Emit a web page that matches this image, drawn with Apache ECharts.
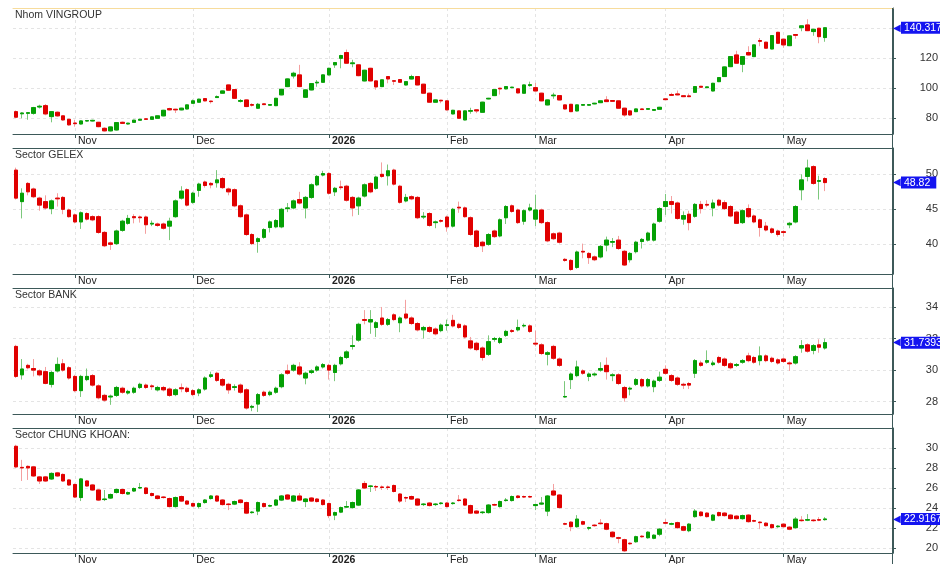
<!DOCTYPE html>
<html>
<head>
<meta charset="utf-8">
<script src="https://cdn.jsdelivr.net/npm/echarts@6.0.0/dist/echarts.min.js"></script>
<style>
html, body { margin: 0; padding: 0; background: #fff; }
#main { width: 940px; height: 564px; }
</style>
</head>
<body>
<div id="main"></div>
<script>
'use strict';

// trading days, month by month (holidays left out)
var oct25 = [20, 21, 22, 23, 24, 27, 28, 29, 30, 31];
var nov25 = [3, 4, 5, 6, 7, 10, 11, 12, 13, 14, 17, 18, 19, 20, 21, 24, 25, 26, 27, 28];
var dec25 = [1, 2, 3, 4, 5, 8, 9, 10, 11, 12, 15, 16, 17, 18, 19, 22, 23, 24, 25, 26, 29, 30, 31];
var jan26 = [5, 6, 7, 8, 9, 12, 13, 14, 15, 16, 19, 20, 21, 22, 23, 26, 27, 28, 29, 30];
var feb26 = [2, 3, 4, 5, 6, 9, 10, 11, 12, 13, 23, 24, 25, 26, 27];
var mar26 = [2, 3, 4, 5, 6, 9, 10, 11, 12, 13, 16, 17, 18, 19, 20, 23, 24, 25, 26, 27, 30, 31];
var apr26 = [1, 2, 3, 6, 7, 8, 9, 10, 13, 14, 15, 16, 17, 20, 21, 22, 23, 24, 28, 29];
var may26 = [4, 5, 6, 7, 8, 11, 12, 13];
// empty slots on the right of the chart
var mayAhead = [14, 15, 18, 19, 20, 21, 22, 25, 26, 27, 28];

var monthNames = ['Jan', 'Feb', 'Mar', 'Apr', 'May', 'Jun', 'Jul', 'Aug', 'Sep', 'Oct', 'Nov', 'Dec'];
var panelTitles = ['Nhom VINGROUP', 'Sector GELEX', 'Sector BANK', 'Sector CHUNG KHOAN:'];

// [open, close, low, high]
var vinData = [
    [84.4, 80.7, 80.2, 85.2], [83.0, 83.5, 80.0, 84.0], [83.3, 83.7, 79.0, 84.0], [83.3, 87.1, 82.4, 87.6], [87.5, 88.0, 86.5, 89.0],
    [88.4, 82.9, 82.0, 89.5], [81.1, 84.4, 77.3, 84.8], [84.0, 81.6, 81.0, 84.5], [81.6, 78.9, 78.3, 82.0], [79.3, 75.6, 75.0, 79.6],
    [76.8, 76.4, 74.4, 79.0], [76.2, 78.2, 75.8, 78.6], [78.2, 78.4, 77.8, 78.8], [78.2, 78.6, 77.8, 79.0], [77.3, 74.4, 74.0, 77.6],
    [73.3, 71.6, 71.2, 74.0], [71.6, 74.2, 71.2, 74.5], [72.2, 77.1, 71.8, 77.5], [77.3, 76.6, 76.2, 77.8], [76.2, 76.7, 75.8, 77.0],
    [77.3, 78.7, 77.0, 79.0], [78.7, 79.3, 78.4, 79.6], [79.6, 79.3, 79.0, 79.9], [79.3, 80.9, 79.0, 81.2], [80.0, 81.6, 79.7, 81.9],
    [81.6, 85.3, 81.3, 85.6], [86.4, 85.6, 85.2, 87.0], [86.0, 85.6, 83.5, 86.3], [85.6, 86.7, 85.3, 87.0], [86.2, 88.9, 85.9, 89.2],
    [90.0, 91.6, 89.7, 92.5], [90.7, 92.7, 90.4, 93.0], [93.1, 91.6, 91.3, 93.4], [91.4, 91.1, 89.8, 91.7], [93.8, 94.4, 93.5, 95.2],
    [96.7, 98.2, 96.4, 98.5], [102.2, 98.7, 98.4, 102.5], [99.1, 93.3, 92.9, 99.4], [91.3, 91.8, 90.5, 92.8], [92.2, 87.8, 87.4, 92.5],
    [89.1, 88.7, 87.8, 90.0], [86.7, 89.3, 86.3, 90.2], [89.6, 89.1, 88.8, 89.9], [88.7, 89.1, 88.4, 89.4], [88.4, 93.3, 88.1, 93.6],
    [95.6, 99.3, 95.3, 99.6], [101.1, 106.2, 100.8, 106.6], [108.2, 110.0, 106.5, 111.0], [108.9, 101.1, 100.7, 115.6], [94.0, 98.9, 93.6, 99.2],
    [98.9, 103.1, 98.6, 103.4], [103.6, 104.0, 101.0, 105.5], [104.0, 108.9, 103.7, 109.2], [108.9, 113.3, 108.6, 113.6], [115.6, 117.1, 113.6, 117.4],
    [120.0, 121.8, 113.3, 122.3], [123.8, 116.7, 116.3, 125.8], [116.4, 116.9, 114.0, 119.0], [115.6, 108.4, 108.0, 115.9], [104.9, 112.0, 104.6, 112.3],
    [113.3, 104.9, 104.6, 113.6], [104.9, 100.9, 99.0, 105.2], [101.1, 105.6, 100.8, 105.9], [107.8, 106.2, 103.3, 108.1], [105.0, 104.7, 102.2, 105.3],
    [105.8, 104.0, 103.7, 106.1], [102.2, 104.4, 101.9, 104.7], [106.2, 107.8, 105.9, 109.0], [107.8, 102.2, 101.9, 108.1], [102.7, 96.7, 96.4, 103.0],
    [96.7, 90.7, 90.4, 97.0], [90.7, 92.2, 90.4, 92.5], [92.0, 91.6, 90.0, 92.3], [91.6, 85.6, 85.3, 91.9], [82.9, 85.3, 82.6, 85.6],
    [84.9, 80.0, 79.7, 85.2], [78.9, 84.9, 78.6, 85.2], [84.7, 85.1, 83.0, 87.0], [85.6, 84.9, 83.4, 85.9], [84.0, 90.7, 83.7, 91.0],
    [92.9, 93.3, 92.6, 93.6], [95.1, 99.1, 94.8, 99.4], [100.0, 99.6, 95.8, 100.3], [99.6, 101.1, 99.3, 101.4], [100.4, 100.7, 100.1, 101.0],
    [99.6, 96.9, 96.6, 99.9], [96.7, 102.2, 96.4, 102.5], [101.8, 102.4, 101.0, 104.4], [100.4, 98.2, 97.9, 103.6], [96.7, 91.6, 91.3, 97.0],
    [88.9, 92.2, 88.6, 92.5], [95.0, 95.4, 93.0, 97.0], [95.1, 92.2, 91.9, 95.4], [88.9, 86.2, 85.9, 89.2], [89.3, 84.4, 84.1, 89.6],
    [84.9, 88.9, 84.6, 89.2], [88.7, 89.1, 88.4, 89.4], [88.7, 89.1, 88.4, 89.4], [89.6, 90.0, 89.3, 90.3], [90.4, 91.6, 90.1, 91.9],
    [92.2, 91.1, 90.8, 94.7], [91.8, 91.3, 91.0, 92.1], [91.6, 86.7, 86.4, 91.9], [86.7, 82.2, 81.0, 87.0], [84.9, 82.2, 81.5, 85.2],
    [84.4, 86.2, 84.1, 86.5], [86.2, 85.8, 85.5, 86.5], [86.0, 86.4, 85.7, 86.7], [85.3, 85.8, 85.0, 86.1], [86.0, 87.3, 85.7, 87.6],
    [92.9, 92.4, 92.1, 93.2], [95.8, 95.3, 95.0, 97.0], [96.2, 95.6, 95.3, 98.5], [95.0, 94.4, 94.1, 95.3], [94.9, 94.4, 94.1, 96.5],
    [97.3, 101.1, 97.0, 101.4], [101.3, 100.7, 100.4, 101.6], [100.4, 100.9, 100.1, 101.2], [98.2, 103.3, 97.9, 103.6], [104.4, 107.1, 104.1, 107.4],
    [107.8, 114.2, 107.5, 114.5], [114.4, 121.1, 114.1, 121.4], [122.2, 116.7, 116.4, 125.0], [116.0, 121.1, 110.7, 121.4], [123.8, 122.2, 121.9, 128.0],
    [121.1, 128.9, 120.8, 129.2], [131.8, 131.3, 128.0, 133.5], [130.7, 126.7, 126.4, 131.0], [126.2, 135.1, 125.9, 135.4], [137.3, 130.0, 129.7, 137.6],
    [132.7, 128.9, 127.0, 133.0], [128.4, 134.9, 128.1, 135.2], [135.8, 135.3, 133.0, 136.1], [140.4, 141.6, 138.0, 141.9], [142.2, 138.4, 138.1, 146.0],
    [137.8, 139.3, 135.0, 139.6], [140.0, 134.4, 130.0, 140.3], [133.8, 140.317, 131.0, 140.6]
];

var gelexData = [
    [50.6, 46.6, 46.4, 50.95], [46.1, 47.3, 43.7, 48.0], [48.7, 47.5, 47.0, 48.9], [47.9, 46.8, 46.6, 48.1], [46.6, 45.6, 44.8, 46.8],
    [46.1, 45.2, 45.0, 47.0], [45.1, 46.2, 44.3, 46.4], [46.6, 46.5, 45.4, 47.3], [46.7, 45.0, 44.3, 46.9], [44.9, 43.95, 43.8, 45.1],
    [44.2, 43.2, 43.0, 44.4], [43.2, 44.5, 42.2, 44.7], [44.4, 43.6, 43.4, 44.6], [43.95, 43.5, 43.3, 44.15], [43.95, 41.7, 41.5, 44.15],
    [41.7, 39.8, 39.6, 41.9], [40.2, 40.0, 39.2, 40.4], [40.1, 41.9, 39.9, 42.1], [42.0, 43.3, 41.8, 43.5], [43.0, 43.7, 42.8, 44.2],
    [43.95, 43.8, 43.0, 44.3], [43.9, 43.8, 43.1, 44.1], [43.9, 42.8, 41.5, 44.1], [42.9, 43.0, 42.6, 43.4], [42.9, 42.7, 42.5, 43.1],
    [42.9, 42.3, 42.1, 43.1], [42.6, 43.3, 40.6, 43.8], [43.95, 46.2, 43.8, 46.4], [46.6, 47.6, 46.4, 48.3], [47.8, 45.6, 45.4, 48.0],
    [46.0, 47.3, 45.8, 47.5], [47.7, 48.6, 46.8, 48.8], [48.9, 48.4, 48.1, 49.1], [48.7, 48.5, 48.0, 48.9], [48.8, 49.2, 48.1, 50.6],
    [49.4, 48.1, 47.9, 49.6], [47.9, 47.5, 47.0, 48.1], [47.8, 45.5, 45.3, 48.0], [45.5, 43.95, 43.8, 45.7], [44.2, 41.4, 41.2, 44.4],
    [41.4, 40.1, 39.9, 41.6], [40.4, 40.8, 38.8, 41.0], [41.0, 42.1, 40.8, 42.3], [42.4, 43.2, 41.7, 43.4], [42.5, 43.4, 42.3, 43.6],
    [42.5, 45.0, 42.3, 45.2], [45.1, 45.2, 44.6, 45.9], [45.2, 46.2, 45.0, 46.4], [46.4, 45.9, 45.7, 47.5], [45.2, 46.7, 43.7, 46.9],
    [46.7, 48.5, 46.5, 48.7], [48.5, 49.7, 48.3, 49.9], [49.9, 50.1, 49.7, 50.5], [50.1, 47.3, 47.1, 50.3], [47.5, 48.0, 46.9, 48.2],
    [48.2, 48.1, 47.8, 49.1], [48.3, 46.3, 46.1, 48.5], [46.7, 45.2, 44.0, 46.9], [45.5, 46.6, 44.2, 46.8], [46.9, 48.5, 46.7, 48.7],
    [48.7, 47.5, 47.3, 48.9], [48.0, 49.6, 47.8, 49.8], [50.0, 49.7, 49.5, 51.7], [49.8, 50.5, 48.4, 51.4], [50.6, 48.6, 48.4, 50.8],
    [48.3, 46.0, 45.8, 48.5], [46.2, 46.7, 46.0, 47.2], [46.8, 46.5, 46.3, 47.0], [46.7, 43.8, 43.6, 46.9], [43.9, 44.0, 43.6, 44.6],
    [44.4, 42.7, 42.5, 44.6], [43.1, 43.2, 42.3, 43.4], [43.4, 43.3, 43.1, 43.6], [43.9, 42.5, 41.8, 44.1], [42.6, 45.0, 42.4, 45.2],
    [45.3, 45.2, 44.5, 46.1], [45.2, 43.95, 43.8, 45.4], [43.8, 41.4, 41.2, 44.0], [41.9, 39.7, 39.5, 42.1], [40.3, 39.8, 38.9, 40.5],
    [40.0, 41.4, 39.8, 41.6], [41.9, 41.1, 40.9, 42.1], [41.2, 43.5, 41.0, 43.7], [43.8, 45.4, 42.9, 45.6], [45.5, 44.7, 44.5, 45.7],
    [44.9, 43.1, 42.9, 45.1], [43.3, 44.8, 42.8, 45.0], [44.9, 45.2, 44.7, 45.8], [43.6, 44.9, 42.6, 47.1], [44.9, 43.1, 42.9, 45.1],
    [43.1, 40.5, 40.3, 43.3], [41.5, 40.8, 40.6, 41.7], [41.6, 40.3, 40.1, 41.8], [37.85, 37.7, 37.5, 38.05], [37.7, 36.4, 36.2, 37.9],
    [36.7, 38.9, 36.5, 39.1], [39.0, 38.9, 38.0, 40.1], [38.7, 38.1, 37.2, 38.9], [38.2, 37.8, 37.6, 38.4], [38.2, 39.7, 38.0, 39.9],
    [39.9, 40.6, 39.0, 41.1], [40.3, 40.4, 39.6, 40.9], [40.6, 39.4, 39.2, 41.2], [39.0, 37.05, 36.9, 39.2], [37.8, 38.7, 37.4, 38.9],
    [38.95, 40.3, 38.7, 40.5], [40.4, 40.7, 39.4, 40.9], [40.6, 41.6, 40.4, 41.8], [40.6, 42.9, 40.4, 43.1], [43.3, 45.1, 43.1, 45.3],
    [45.4, 46.1, 44.2, 47.2], [46.1, 45.7, 44.4, 46.9], [45.9, 43.7, 43.5, 46.1], [43.6, 44.1, 42.8, 44.7], [44.3, 43.1, 42.0, 44.8],
    [44.0, 45.7, 43.8, 45.9], [45.7, 45.1, 44.4, 46.2], [45.7, 45.6, 45.3, 46.3], [45.2, 45.9, 44.0, 46.4], [46.3, 45.6, 45.4, 46.5],
    [45.95, 45.1, 44.9, 46.3], [45.4, 44.05, 43.85, 45.6], [44.6, 43.0, 42.9, 44.8], [43.1, 44.8, 42.9, 45.0], [45.1, 43.95, 43.75, 45.7],
    [44.05, 43.2, 43.0, 44.25], [43.5, 42.4, 41.1, 43.7], [42.6, 42.05, 41.85, 43.2], [42.2, 41.7, 41.5, 42.4], [41.9, 41.4, 41.1, 42.1],
    [41.8, 41.7, 41.1, 42.0], [42.8, 43.0, 42.3, 43.2], [43.2, 45.4, 43.0, 45.6], [47.8, 49.2, 46.3, 50.0], [49.7, 50.9, 49.0, 52.1],
    [51.1, 48.7, 48.5, 51.3], [49.0, 49.1, 46.4, 49.8], [49.4, 48.82, 47.6, 49.6]
];

var bankData = [
    [31.5, 29.6, 29.5, 31.6], [29.7, 30.07, 29.4, 30.7], [30.3, 30.15, 30.05, 30.4], [30.1, 30.0, 29.6, 30.7], [29.95, 29.7, 29.6, 30.05],
    [29.9, 29.16, 29.1, 30.2], [29.1, 29.85, 28.9, 29.95], [29.95, 30.36, 29.85, 30.8], [30.4, 30.0, 29.9, 30.7], [30.15, 29.5, 29.4, 30.25],
    [29.6, 28.7, 28.6, 29.7], [28.7, 29.6, 28.3, 29.7], [29.4, 29.6, 29.3, 30.1], [29.65, 29.05, 28.95, 29.75], [29.0, 28.25, 28.15, 29.1],
    [28.4, 28.1, 28.0, 28.5], [28.3, 28.35, 27.8, 28.45], [28.4, 28.9, 28.3, 29.0], [28.85, 28.6, 28.5, 28.95], [28.55, 28.65, 28.45, 28.75],
    [28.6, 28.85, 28.5, 28.95], [28.9, 29.1, 28.8, 29.2], [29.05, 28.9, 28.8, 29.15], [29.0, 28.95, 28.75, 29.1], [28.75, 28.9, 28.65, 29.0],
    [28.9, 28.75, 28.65, 29.0], [28.8, 28.4, 28.3, 28.9], [28.45, 28.75, 28.35, 28.85], [28.88, 28.82, 28.6, 29.15], [28.85, 28.65, 28.55, 28.95],
    [28.7, 28.45, 28.35, 28.8], [28.55, 28.75, 28.35, 28.85], [28.8, 29.5, 28.7, 29.6], [29.6, 29.7, 29.5, 29.9], [29.8, 29.35, 29.25, 29.9],
    [29.4, 29.05, 28.95, 29.5], [29.1, 28.75, 28.5, 29.2], [28.9, 28.95, 28.7, 29.1], [29.05, 28.6, 28.5, 29.15], [28.75, 27.6, 27.5, 28.85],
    [27.65, 27.7, 27.4, 27.8], [27.85, 28.45, 27.35, 28.55], [28.6, 28.4, 28.3, 28.7], [28.45, 28.6, 28.35, 28.7], [28.6, 28.85, 28.5, 28.95],
    [28.95, 29.7, 28.85, 29.8], [29.95, 29.8, 29.7, 30.35], [30.0, 30.3, 29.9, 30.4], [30.2, 29.75, 29.65, 30.5], [29.5, 29.8, 29.1, 29.9],
    [29.85, 29.95, 29.75, 30.05], [30.0, 30.2, 29.9, 30.3], [30.2, 30.35, 30.1, 30.45], [30.3, 30.0, 29.4, 30.4], [29.85, 30.3, 29.3, 30.4],
    [30.4, 30.8, 30.3, 30.9], [30.8, 31.15, 30.7, 31.25], [31.5, 31.55, 31.3, 32.2], [31.9, 32.9, 31.8, 33.0], [33.2, 33.15, 32.9, 33.8],
    [33.05, 33.2, 32.3, 33.8], [32.7, 33.0, 32.1, 33.1], [33.3, 32.9, 32.8, 34.0], [32.9, 33.2, 32.8, 33.3], [33.5, 33.2, 33.1, 33.6],
    [33.0, 33.3, 32.4, 33.4], [33.55, 33.3, 33.2, 34.45], [33.3, 32.95, 32.85, 33.4], [32.95, 32.55, 32.45, 33.05], [32.55, 32.7, 32.0, 32.8],
    [32.7, 32.45, 32.35, 32.8], [32.6, 32.3, 32.2, 32.7], [32.5, 32.85, 32.4, 32.95], [32.83, 32.87, 32.5, 33.2], [33.15, 32.8, 32.7, 33.5],
    [32.9, 32.7, 32.6, 33.0], [32.8, 32.1, 32.0, 32.9], [31.85, 31.4, 31.3, 32.1], [31.7, 31.3, 31.2, 31.8], [31.4, 30.8, 30.6, 31.5],
    [31.0, 31.8, 30.9, 32.2], [31.95, 32.0, 31.8, 32.1], [31.75, 32.0, 31.65, 32.1], [32.2, 32.45, 32.1, 32.55], [32.5, 32.45, 32.35, 32.6],
    [32.55, 32.7, 32.45, 33.2], [32.8, 32.83, 32.7, 32.95], [32.8, 32.45, 32.35, 32.9], [31.7, 31.65, 31.5, 32.5], [31.6, 31.05, 30.95, 31.7],
    [31.0, 31.1, 30.3, 31.2], [31.5, 30.75, 30.65, 31.6], [30.7, 30.3, 30.2, 30.8], [28.3, 28.33, 28.25, 29.3], [29.4, 29.75, 28.8, 29.85],
    [29.65, 30.2, 29.55, 30.6], [29.95, 29.8, 29.7, 30.05], [29.6, 29.75, 29.3, 29.85], [29.7, 29.75, 29.6, 29.85], [30.0, 30.1, 29.9, 30.5],
    [30.3, 29.9, 29.4, 30.8], [29.65, 29.7, 29.3, 29.8], [29.7, 29.15, 29.05, 29.8], [28.9, 28.25, 28.0, 29.0], [28.8, 28.85, 28.4, 28.95],
    [29.1, 29.4, 29.0, 29.5], [29.4, 29.0, 28.9, 29.5], [29.0, 29.4, 28.9, 29.5], [28.95, 29.3, 28.6, 29.4], [29.35, 29.55, 29.25, 29.9],
    [30.05, 29.8, 29.7, 30.3], [29.65, 29.35, 29.25, 29.75], [29.5, 29.1, 29.0, 29.6], [29.1, 29.05, 28.8, 29.2], [29.15, 29.05, 28.8, 29.25],
    [29.8, 30.6, 29.5, 30.7], [30.45, 30.3, 30.2, 30.6], [30.5, 30.6, 30.4, 31.25], [30.35, 30.45, 30.25, 30.6], [30.8, 30.5, 30.4, 30.9],
    [30.7, 30.3, 30.2, 30.8], [30.4, 30.15, 30.05, 30.5], [30.3, 30.35, 30.2, 30.45], [30.5, 30.6, 30.4, 30.7], [30.9, 30.6, 30.5, 31.1],
    [30.8, 30.5, 30.4, 30.9], [30.6, 30.9, 30.3, 31.5], [30.9, 30.6, 30.5, 31.0], [30.75, 30.55, 30.45, 30.85], [30.65, 30.45, 30.35, 30.75],
    [30.7, 30.55, 30.45, 30.8], [30.45, 30.4, 29.95, 30.55], [30.45, 30.85, 30.35, 30.95], [31.4, 31.55, 31.1, 31.9], [31.6, 31.2, 31.1, 31.7],
    [31.25, 31.55, 31.0, 31.65], [31.6, 31.45, 31.1, 31.95], [31.4, 31.7393, 31.3, 32.0]
];

var ckData = [
    [30.15, 28.1, 28.0, 30.3], [28.05, 28.0, 26.7, 28.8], [28.15, 28.0, 26.8, 28.25], [28.1, 27.2, 27.1, 28.2], [27.1, 26.7, 26.4, 27.2],
    [27.1, 26.7, 26.6, 27.2], [26.9, 27.45, 26.8, 27.55], [27.5, 27.2, 27.1, 27.6], [27.35, 26.7, 26.6, 27.45], [26.8, 26.3, 26.2, 26.9],
    [26.35, 25.1, 25.0, 26.45], [25.05, 26.9, 24.7, 27.0], [26.7, 26.2, 26.1, 26.8], [26.3, 25.8, 25.7, 26.4], [25.8, 24.8, 24.7, 25.9],
    [24.85, 24.9, 24.7, 25.8], [25.0, 25.35, 24.9, 25.45], [25.55, 25.85, 25.45, 25.95], [25.85, 25.45, 25.35, 25.95], [25.4, 25.55, 25.3, 25.65],
    [25.7, 25.95, 25.6, 26.05], [26.0, 26.05, 25.9, 26.5], [26.0, 25.45, 25.35, 26.1], [25.45, 25.25, 25.15, 25.55], [25.2, 24.95, 24.85, 25.3],
    [25.1, 25.05, 24.95, 25.2], [24.95, 24.15, 24.05, 25.05], [24.15, 25.05, 24.05, 25.15], [25.15, 24.7, 24.6, 25.25], [24.7, 24.4, 24.3, 24.8],
    [24.45, 24.2, 24.1, 24.55], [24.15, 24.45, 23.95, 24.55], [24.55, 24.8, 24.45, 24.9], [24.95, 25.2, 24.85, 25.3], [25.2, 24.7, 24.6, 25.3],
    [24.8, 24.35, 24.25, 24.9], [24.4, 24.35, 23.8, 24.5], [24.4, 24.65, 24.3, 24.75], [24.8, 24.55, 24.45, 24.9], [24.55, 23.5, 23.4, 24.65],
    [23.55, 23.6, 23.45, 23.7], [23.7, 24.55, 23.3, 24.65], [24.45, 24.15, 24.05, 24.55], [24.2, 24.25, 24.1, 24.35], [24.3, 24.8, 24.2, 24.9],
    [24.8, 25.2, 24.7, 25.3], [25.3, 24.9, 24.8, 25.4], [24.7, 25.2, 24.6, 25.3], [25.2, 24.8, 24.7, 25.5], [24.65, 24.9, 24.1, 25.0],
    [25.0, 24.7, 24.6, 25.1], [24.9, 24.65, 24.55, 25.0], [24.8, 24.35, 24.25, 24.9], [24.45, 23.25, 23.0, 24.55], [23.3, 23.55, 22.8, 23.65],
    [23.6, 24.05, 23.5, 24.15], [24.1, 24.15, 24.0, 24.7], [24.05, 24.55, 23.95, 24.65], [24.3, 25.8, 24.2, 25.9], [26.45, 26.0, 25.9, 26.7],
    [26.15, 26.2, 25.6, 26.3], [26.15, 26.1, 25.7, 26.3], [26.1, 26.05, 25.8, 26.25], [26.1, 26.05, 25.8, 26.25], [26.25, 25.65, 25.55, 26.35],
    [25.4, 24.7, 24.5, 25.5], [25.05, 25.0, 24.6, 25.15], [25.15, 24.9, 24.8, 25.25], [24.9, 24.3, 24.2, 25.0], [24.35, 24.4, 24.2, 24.5],
    [24.5, 24.25, 24.15, 24.6], [24.35, 24.4, 24.2, 24.5], [24.45, 24.5, 24.35, 24.6], [24.5, 24.15, 24.05, 24.6], [24.45, 24.5, 24.35, 24.6],
    [24.8, 24.75, 24.65, 25.3], [24.9, 24.3, 24.2, 25.0], [24.25, 23.5, 23.4, 24.35], [23.7, 23.5, 23.4, 23.8], [23.55, 23.6, 23.4, 23.7],
    [23.55, 24.3, 23.45, 24.4], [24.35, 24.3, 24.2, 24.45], [24.15, 24.65, 24.05, 24.75], [24.75, 24.8, 24.65, 25.0], [24.75, 25.15, 24.65, 25.25],
    [25.2, 25.05, 24.95, 25.3], [25.15, 25.1, 25.0, 25.25], [25.15, 25.1, 25.0, 25.25], [24.25, 24.35, 23.8, 24.45], [24.4, 24.5, 24.3, 25.1],
    [23.7, 25.2, 23.2, 25.3], [25.7, 25.3, 25.2, 26.4], [25.3, 24.05, 23.95, 25.4], [22.45, 22.4, 22.3, 22.55], [22.6, 22.15, 21.7, 22.7],
    [22.15, 22.9, 22.05, 23.3], [22.65, 22.4, 22.3, 22.75], [22.0, 22.05, 21.8, 22.15], [22.3, 22.25, 22.15, 22.4], [22.5, 22.45, 22.35, 22.9],
    [22.45, 21.9, 21.8, 22.55], [21.6, 21.15, 21.05, 21.7], [21.05, 21.0, 20.5, 21.15], [20.85, 19.75, 19.65, 20.95], [20.5, 20.45, 20.35, 20.6],
    [20.65, 21.15, 20.55, 21.25], [21.2, 21.15, 21.05, 21.3], [21.05, 21.6, 20.95, 21.7], [21.0, 21.3, 20.9, 21.4], [21.4, 21.9, 21.2, 22.0],
    [22.55, 22.5, 22.4, 22.9], [22.4, 22.45, 22.3, 22.55], [22.55, 22.05, 21.95, 22.65], [22.15, 21.8, 21.7, 22.25], [21.75, 22.4, 21.6, 22.5],
    [23.15, 23.7, 23.05, 23.9], [23.6, 23.25, 23.15, 23.7], [23.5, 23.15, 23.05, 23.6], [22.8, 23.3, 22.7, 23.4], [23.55, 23.25, 23.15, 23.65],
    [23.5, 23.25, 23.15, 23.6], [23.3, 22.95, 22.85, 23.4], [23.2, 22.95, 22.85, 23.3], [22.95, 23.25, 22.85, 23.35], [23.3, 22.65, 22.55, 23.4],
    [22.75, 22.7, 22.6, 22.85], [22.6, 22.55, 21.9, 22.7], [22.5, 22.25, 22.15, 22.6], [22.35, 22.05, 21.95, 22.45], [22.15, 22.2, 22.05, 22.3],
    [22.4, 22.15, 22.05, 22.5], [22.1, 21.9, 21.8, 22.2], [22.05, 22.9, 21.95, 23.1], [22.8, 22.75, 22.65, 23.2], [22.8, 22.85, 22.7, 23.4],
    [22.8, 22.75, 22.65, 22.9], [22.85, 22.8, 22.7, 23.1], [22.85, 22.9167, 22.75, 23.1]
];

var panelData = [vinData, gelexData, bankData, ckData];
var yRanges = [[69.5, 153.5], [35.76, 53.76], [27.22, 35.2], [19.53, 31.97]];
var ySplits = [5, 4, 4, 6];

// build the category list
var dates = [];
function addMonth(prefix, days) {
    days.forEach(function(d) {
        dates.push(prefix + (d < 10 ? '0' + d : d));
    });
}
addMonth('2025-10-', oct25);
addMonth('2025-11-', nov25);
addMonth('2025-12-', dec25);
addMonth('2026-01-', jan26);
addMonth('2026-02-', feb26);
addMonth('2026-03-', mar26);
addMonth('2026-04-', apr26);
addMonth('2026-05-', may26);
addMonth('2026-05-', mayAhead);

function isMonthStart(index) {
    if (index <= 0 || index >= dates.length) return false;
    return dates[index].slice(0, 7) !== dates[index - 1].slice(0, 7);
}

function monthLabel(value) {
    var m = +value.slice(5, 7);
    if (m === 1) return '{y|' + value.slice(0, 4) + '}';
    return monthNames[m - 1];
}

var axisDark = '#3d5959';
var gridDash = '#e4e4e4';
var tops = [8, 148, 288, 428];
var heights = [126, 126, 126, 125];

var grids = [], xAxes = [], topAxes = [], yAxes = [], badgeAxes = [], series = [], titles = [];

panelData.forEach(function(data, k) {
    grids.push({ left: 13, right: 47, top: tops[k], height: heights[k], containLabel: false, outerBoundsMode: 'none' });

    titles.push({
        text: panelTitles[k],
        left: 15,
        top: tops[k] + 2,
        padding: 0,
        textStyle: { fontSize: 10.5, fontWeight: 'normal', color: '#333', fontFamily: 'Liberation Sans, Arial, sans-serif' }
    });

    xAxes.push({
        type: 'category',
        gridIndex: k,
        data: dates,
        boundaryGap: true,
        axisLine: { lineStyle: { color: axisDark, width: 1 } },
        axisTick: { show: true, alignWithLabel: true, interval: isMonthStart, length: 4, lineStyle: { color: axisDark } },
        axisLabel: {
            interval: isMonthStart,
            formatter: monthLabel,
            align: 'left',
            padding: [0, 0, 0, 3],
            margin: 2,
            fontSize: 10.5,
            color: '#222',
            rich: { y: { fontSize: 10.5, fontWeight: 'bold', color: '#222' } }
        },
        splitLine: { show: true, interval: isMonthStart, alignWithLabel: true, lineStyle: { color: gridDash, type: [3, 3] } }
    });

    // border line on top of each panel
    topAxes.push({
        type: 'category',
        gridIndex: k,
        data: dates,
        position: 'top',
        axisLine: { lineStyle: { color: k === 0 ? '#f7dc9c' : axisDark, width: 1 } },
        axisTick: { show: false },
        axisLabel: { show: false },
        splitLine: { show: false }
    });

    yAxes.push({
        type: 'value',
        gridIndex: k,
        position: 'right',
        min: yRanges[k][0],
        max: yRanges[k][1],
        splitNumber: ySplits[k],
        axisLine: { show: true, lineStyle: { color: axisDark } },
        axisTick: { show: true, length: 3, lineStyle: { color: axisDark } },
        axisLabel: { showMinLabel: false, showMaxLabel: false, align: 'right', margin: 45, fontSize: 11, color: '#333' },
        splitLine: { show: true, lineStyle: { color: gridDash, type: [3, 3] } }
    });

    var last = data[data.length - 1][1];
    badgeAxes.push({
        type: 'value',
        gridIndex: k,
        position: 'right',
        min: yRanges[k][0],
        max: yRanges[k][1],
        z: 10,
        axisLine: { show: false },
        axisTick: { show: false },
        splitLine: { show: false },
        axisLabel: {
            customValues: [last],
            showMinLabel: true,
            showMaxLabel: true,
            align: 'left',
            margin: 0,
            formatter: function(v) { return '{a|\u25C0}{b|' + v + '}'; },
            rich: {
                a: { color: '#1414f0', fontSize: 10, padding: [0, 0, 0, 0] },
                b: { color: '#fff', backgroundColor: '#1414f0', fontSize: 10.5, lineHeight: 13, padding: [1, 6, 0, 3] }
            }
        }
    });

    var bodies = data.map(function(d) {
        return [d[0], d[1], Math.min(d[0], d[1]), Math.max(d[0], d[1])];
    });

    // wicks (lighter colours) underneath
    series.push({
        type: 'candlestick',
        xAxisIndex: k,
        yAxisIndex: k,
        barWidth: 4,
        data: data,
        itemStyle: { color: '#7cc87c', color0: '#f4a0a0', borderColor: '#7cc87c', borderColor0: '#f4a0a0', borderWidth: 1 }
    });
    // solid bodies on top
    series.push({
        type: 'candlestick',
        xAxisIndex: k,
        yAxisIndex: k,
        barWidth: 4,
        data: bodies,
        itemStyle: { color: '#05a005', color0: '#e00000', borderColor: '#05a005', borderColor0: '#e00000', borderWidth: 1 }
    });
});

var myChart = echarts.init(document.getElementById('main'));
var option = {
    animation: false,
    backgroundColor: '#fff',
    textStyle: { fontFamily: 'Liberation Sans, Arial, sans-serif' },
    title: titles,
    grid: grids,
    xAxis: xAxes.concat(topAxes),
    yAxis: yAxes.concat(badgeAxes),
    series: series,
    graphic: [{
        type: 'line',
        shape: { x1: 892.5, y1: 8, x2: 892.5, y2: 564 },
        style: { stroke: axisDark, lineWidth: 1 },
        z: 5
    }]
};
myChart.setOption(option);
</script>
</body>
</html>
